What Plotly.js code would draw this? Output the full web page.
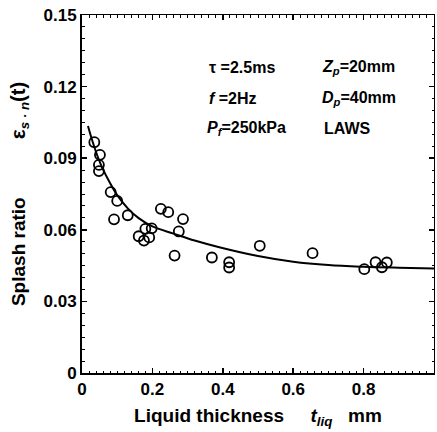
<!DOCTYPE html>
<html>
<head>
<meta charset="utf-8">
<script src="https://cdn.plot.ly/plotly-3.0.1.min.js"></script>
<style>html,body{margin:0;padding:0;background:#fff;}#chart{width:437px;height:432px;}</style>
</head>
<body>
<div id="chart"></div>
<script>
// Measured points: liquid thickness (mm) vs splash ratio
var thickness = [0.035,0.051,0.048,0.048,0.0815,0.100,0.091,0.130,0.161,0.176,0.180,0.191,0.198,0.224,0.245,0.275,0.287,0.263,0.369,0.418,0.418,0.505,0.655,0.802,0.834,0.852,0.866];
var splash = [0.0967,0.0914,0.0872,0.0846,0.0758,0.0721,0.0644,0.0661,0.0573,0.0555,0.0604,0.0568,0.0606,0.0688,0.0674,0.0593,0.0645,0.0492,0.0484,0.0464,0.0442,0.0533,0.0502,0.0435,0.0464,0.0443,0.0463];
// Fitted curve
var curveX = [0.017,0.03,0.045,0.06,0.08,0.10,0.13,0.16,0.20,0.26,0.32,0.39,0.50,0.60,0.70,0.80,0.90,1.0];
var curveY = [0.1035,0.097,0.0905,0.0852,0.0795,0.0745,0.0690,0.0650,0.0614,0.0584,0.0555,0.0527,0.0490,0.0466,0.0452,0.0445,0.0441,0.0438];
var xTicks = [0,0.2,0.4,0.6,0.8,1];
var xTickText = ['0','0.2','0.4','0.6','0.8','1'];
var yTicks = [0,0.03,0.06,0.09,0.12,0.15];
var yTickText = ['0','0.03','0.06','0.09','0.12','0.15'];

var F = 'Liberation Sans, Arial, sans-serif';
var traces = [
  {x: curveX, y: curveY, mode: 'lines', line: {color: '#000', width: 2, shape: 'spline'}, hoverinfo: 'skip', showlegend: false},
  {x: thickness, y: splash, mode: 'markers', marker: {symbol: 'circle-open', size: 10, color: '#000', line: {width: 1.8, color: '#000'}}, showlegend: false},
  {x: [], y: [], xaxis: 'x2', yaxis: 'y', showlegend: false, hoverinfo: 'skip'},
  {x: [], y: [], xaxis: 'x', yaxis: 'y2', showlegend: false, hoverinfo: 'skip'}
];
var tickFont = {family: F, size: 17, color: '#000', weight: 'bold'};
var sp = function(n){ return new Array(n + 1).join('\u00a0'); };
var layout = {
  width: 437, height: 432,
  margin: {l: 82, r: 3, t: 15, b: 59},
  paper_bgcolor: '#fff', plot_bgcolor: '#fff',
  font: {family: F, color: '#000'},
  xaxis: {
    range: [0, 1], tickvals: xTicks, ticktext: xTickText, ticks: 'inside', ticklen: 5, tickwidth: 1.5, tickcolor: '#000',
    minor: {dtick: 0.02, ticks: 'inside', ticklen: 2.5, tickwidth: 1, tickcolor: '#000', showgrid: false},
    showline: true, linewidth: 2, linecolor: '#000', showgrid: false, zeroline: false,
    tickfont: tickFont,
    title: {text: 'Liquid thickness' + sp(5) + '<i>t</i><sub><i>liq</i></sub>' + sp(3) + 'mm', font: {family: F, size: 19, color: '#000', weight: 'bold'}, standoff: 10}
  },
  yaxis: {
    range: [0, 0.15], tickvals: yTicks, ticktext: yTickText, ticks: 'inside', ticklen: 5, tickwidth: 1.5, tickcolor: '#000',
    minor: {dtick: 0.005, ticks: 'inside', ticklen: 2.5, tickwidth: 1, tickcolor: '#000', showgrid: false},
    showline: true, linewidth: 2, linecolor: '#000', showgrid: false, zeroline: false,
    tickfont: tickFont,
    title: {text: 'Splash ratio' + sp(11) + '<span style="font-size:21px">ε</span><sub><i>s · n</i></sub><span style="font-size:20px">(t)</span>', font: {family: F, size: 19, color: '#000', weight: 'bold'}, standoff: 13}
  },
  xaxis2: {
    range: [0, 1], overlaying: 'x', side: 'top', anchor: 'y', showticklabels: false,
    tickvals: xTicks, ticks: 'inside', ticklen: 5, tickwidth: 1.5, tickcolor: '#000',
    minor: {dtick: 0.02, ticks: 'inside', ticklen: 2.5, tickwidth: 1, tickcolor: '#000', showgrid: false},
    showline: true, linewidth: 1.2, linecolor: '#000', showgrid: false, zeroline: false
  },
  yaxis2: {
    range: [0, 0.15], overlaying: 'y', side: 'right', anchor: 'x', showticklabels: false,
    tickvals: yTicks, ticks: 'inside', ticklen: 5, tickwidth: 1.5, tickcolor: '#000',
    minor: {dtick: 0.005, ticks: 'inside', ticklen: 2.5, tickwidth: 1, tickcolor: '#000', showgrid: false},
    showline: true, linewidth: 1.2, linecolor: '#000', showgrid: false, zeroline: false
  },
  annotations: [
    {text: 'τ =2.5ms', x: 0.355, y: 0.852},
    {text: '<i>f</i> =2Hz', x: 0.355, y: 0.768},
    {text: '<i>P</i><sub><i>f</i></sub>=250kPa', x: 0.350, y: 0.684},
    {text: '<i>Z</i><sub><i>p</i></sub>=20mm', x: 0.675, y: 0.852},
    {text: '<i>D</i><sub><i>p</i></sub>=40mm', x: 0.675, y: 0.768},
    {text: 'LAWS', x: 0.683, y: 0.684}
  ].map(function(a){ return Object.assign({xref: 'paper', yref: 'paper', xanchor: 'left', yanchor: 'middle', showarrow: false, font: {family: F, size: 16, color: '#000', weight: 'bold'}}, a); })
};
Plotly.newPlot('chart', traces, layout, {staticPlot: true, displayModeBar: false});
</script>
</body>
</html>
